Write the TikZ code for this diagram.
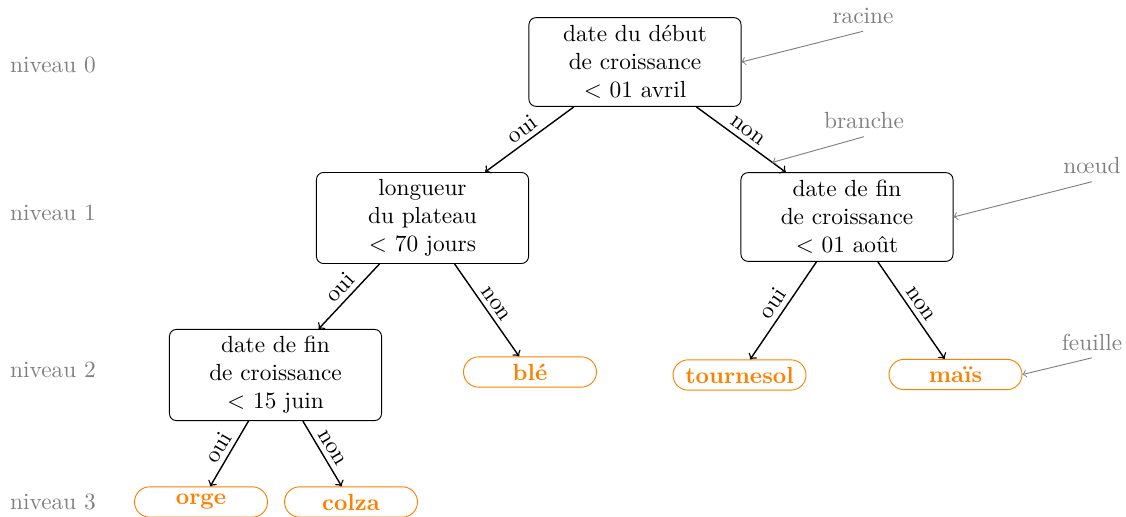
\documentclass[tikz,border=0pt]{standalone}
\usetikzlibrary{shapes.misc}
\begin{document}
\begin{tikzpicture}[x=0.4286pt,y=-0.4286pt,
 decision/.style={draw, rounded corners=3pt, align=center, minimum width=90.9pt, minimum height=38pt, inner sep=3pt},
 leaf/.style={draw=orange, rounded rectangle, text=orange, font=\bfseries, minimum width=59pt, minimum height=13pt, inner sep=1pt},
 branch/.style={->, semithick},
 lbl/.style={sloped, above, inner sep=2pt},
 annot/.style={gray, inner sep=3pt},
 annarrow/.style={<-, gray},
 levellbl/.style={gray}]
\useasboundingbox (0,0) rectangle (1126,517);
% level labels
\node[levellbl] (n0) at (53,65) {niveau 0};
\node[levellbl] (n1) at (53,213) {niveau 1};
\node[levellbl] (n2) at (53,370) {niveau 2};
\node[levellbl] (n3) at (53,502) {niveau 3};
% decision nodes
\node[decision] (root) at (635,62) {date du début\\de croissance\\$<$ 01 avril};
\node[decision] (l1a) at (422.5,218) {longueur\\du plateau\\$<$ 70 jours};
\node[decision] (l1b) at (847,217) {date de fin\\de croissance\\$<$ 01 août};
\node[decision] (l2a) at (275.5,375) {date de fin\\de croissance\\$<$ 15 juin};
% leaves
\node[leaf] (ble) at (530,372) {blé};
\node[leaf] (tour) at (739.5,375) {tournesol};
\node[leaf] (mais) at (955.5,374.5) {maïs};
\node[leaf] (orge) at (201,502) {orge};
\node[leaf] (colza) at (351,502) {colza};
% branches
\draw[branch] (root) -- node[lbl] {oui} (l1a);
\draw[branch] (root) -- node[lbl] {non} coordinate[pos=0.85] (brp) (l1b);
\draw[branch] (l1a) -- node[lbl] {oui} (l2a);
\draw[branch] (l1a) -- node[lbl] {non} (ble);
\draw[branch] (l1b) -- node[lbl] {oui} (tour);
\draw[branch] (l1b) -- node[lbl] {non} (mais);
\draw[branch] (l2a) -- node[lbl] {oui} (orge);
\draw[branch] (l2a) -- node[lbl] {non} (colza);
% annotations
\node[annot] (racine) at (863,16) {racine};
\node[annot] (branche) at (864,121) {branche};
\node[annot] (noeud) at (1092,166) {nœud};
\node[annot] (feuille) at (1092,342) {feuille};
\draw[annarrow] (root.east) -- (racine.south);
\draw[annarrow] (brp) -- (branche.south);
\draw[annarrow] (l1b.east) -- (noeud.south);
\draw[annarrow] (mais.east) -- (feuille.south);
\end{tikzpicture}
\end{document}
